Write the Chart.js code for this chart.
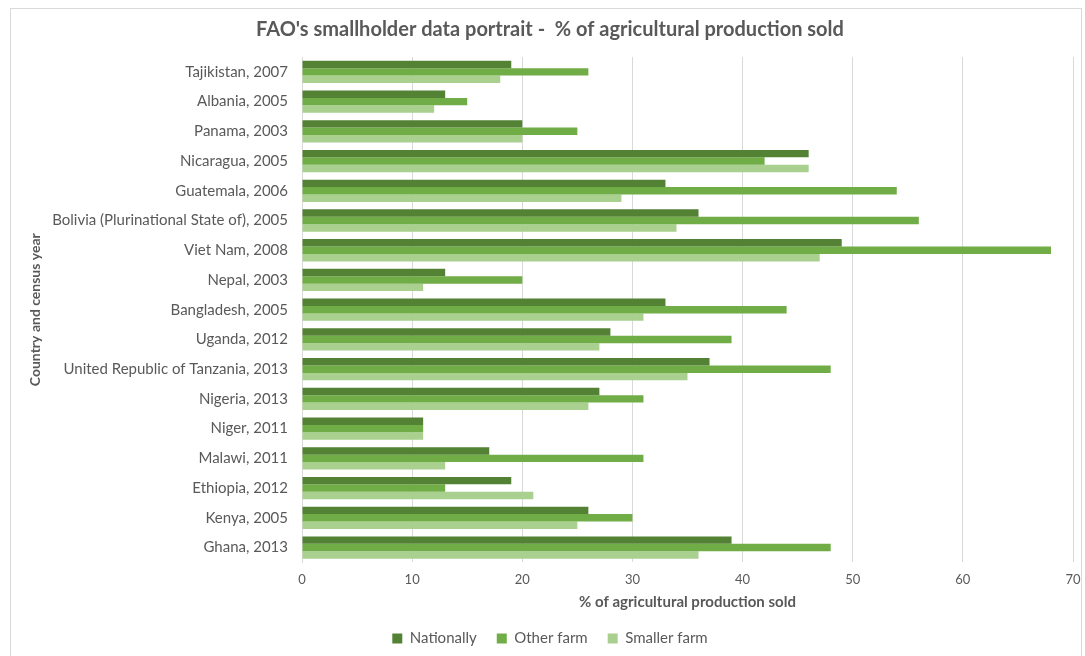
<!DOCTYPE html>
<html>
<head>
<meta charset="utf-8">
<script src="https://cdn.jsdelivr.net/npm/chart.js@4/dist/chart.umd.min.js"></script>
<style>
  body { margin: 0; background: #fff; }
  #wrap { position: relative; width: 1085px; height: 656px; }
  #frame { position: absolute; left: 10px; top: 8px; width: 1072px; height: 660px; border: 1px solid #d9d9d9; box-sizing: border-box; }
  canvas { position: absolute; left: 0; top: 0; }
</style>
</head>
<body>
<div id="wrap">
  <div id="frame"></div>
  <canvas id="barChart" width="1085" height="656"></canvas>
</div>
<script>
const countries = [
  "Tajikistan, 2007",
  "Albania, 2005",
  "Panama, 2003",
  "Nicaragua, 2005",
  "Guatemala, 2006",
  "Bolivia (Plurinational State of), 2005",
  "Viet Nam, 2008",
  "Nepal, 2003",
  "Bangladesh, 2005",
  "Uganda, 2012",
  "United Republic of Tanzania, 2013",
  "Nigeria, 2013",
  "Niger, 2011",
  "Malawi, 2011",
  "Ethiopia, 2012",
  "Kenya, 2005",
  "Ghana, 2013",
];
const nationally = [19, 13, 20, 46, 33, 36, 49, 13, 33, 28, 37, 27, 11, 17, 19, 26, 39];
const otherFarm = [26, 15, 25, 42, 54, 56, 68, 20, 44, 39, 48, 31, 11, 31, 13, 30, 48];
const smallerFarm = [18, 12, 20, 46, 29, 34, 47, 11, 31, 27, 35, 26, 11, 13, 21, 25, 36];
const xTicks = [0, 10, 20, 30, 40, 50, 60, 70];

const fontName = "Lato, 'Open Sans', sans-serif";
const grey = "#595959";

window.addEventListener("load", () => {
  const ctx = document.getElementById("barChart").getContext("2d");
  new Chart(ctx, {
    type: "bar",
    data: {
      labels: countries,
      datasets: [
        { label: "Nationally", data: nationally, backgroundColor: "#548235" },
        { label: "Other farm", data: otherFarm, backgroundColor: "#70ad47" },
        { label: "Smaller farm", data: smallerFarm, backgroundColor: "#a9d08e" },
      ],
    },
    options: {
      indexAxis: "y",
      responsive: false,
      animation: false,
      maintainAspectRatio: false,
      layout: { padding: { left: 27, right: 12, top: 8, bottom: 0 } },
      datasets: { bar: { categoryPercentage: 0.75, barPercentage: 1.0 } },
      scales: {
        x: {
          min: 0,
          max: 70,
          afterBuildTicks: (axis) => {
            axis.ticks = xTicks.map((v) => ({ value: v }));
          },
          afterFit: (axis) => {
            axis.height -= 5;
            axis.paddingRight = 0;
          },
          grid: { color: "#d9d9d9", drawTicks: false },
          border: { display: false },
          ticks: { color: grey, font: { family: fontName, size: 13 }, padding: 10 },
          title: {
            display: true,
            text: "% of agricultural production sold",
            color: grey,
            font: { family: fontName, size: 15, weight: "bold" },
            padding: { top: 0, bottom: 0 },
          },
        },
        y: {
          afterFit: (axis) => {
            axis.width = 275;
          },
          grid: { display: false },
          border: { display: true, color: "#d9d9d9" },
          ticks: { color: grey, font: { family: fontName, size: 15 }, padding: 6 },
          title: {
            display: true,
            text: "Country and census year",
            color: grey,
            font: { family: fontName, size: 14, weight: "bold" },
            padding: { top: 0, bottom: 4 },
          },
        },
      },
      plugins: {
        title: {
          display: true,
          text: "FAO's smallholder data portrait -  % of agricultural production sold",
          color: grey,
          font: { family: fontName, size: 20, weight: "bold" },
          padding: { top: 10, bottom: 15 },
        },
        legend: {
          position: "bottom",
          labels: {
            color: grey,
            font: { family: fontName, size: 15 },
            boxWidth: 10,
            boxHeight: 10,
            padding: 20,
          },
        },
        tooltip: { enabled: false },
      },
    },
  });
});
</script>
</body>
</html>
